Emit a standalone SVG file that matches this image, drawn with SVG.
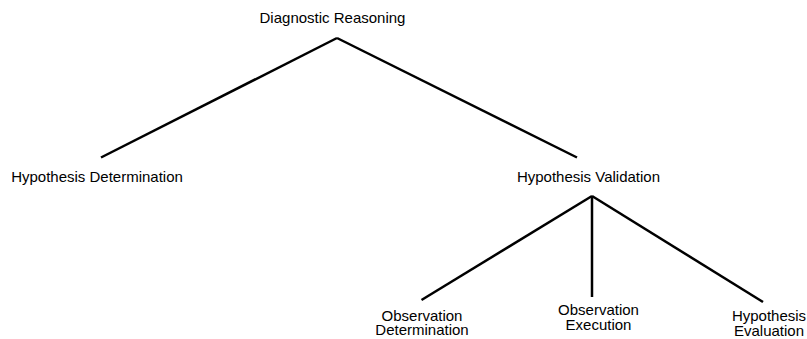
<svg xmlns="http://www.w3.org/2000/svg" width="807" height="339" viewBox="0 0 807 339">
<style>
.bg{fill:#ffffff}
.edge{stroke:#000000;stroke-width:2.5;fill:none;stroke-linecap:butt}
.lbl{font-family:"Liberation Sans",Arial,Helvetica,sans-serif;font-size:15px;fill:#000000;text-anchor:middle}
</style>
<rect class="bg" x="0" y="0" width="807" height="339"/>
<g id="connectors">
<line class="edge" x1="337" y1="38" x2="101" y2="157.5"/>
<line class="edge" x1="337" y1="38" x2="577" y2="157.5"/>
<line class="edge" x1="592" y1="196" x2="421.5" y2="300"/>
<line class="edge" x1="592" y1="196" x2="592" y2="297"/>
<line class="edge" x1="592" y1="196" x2="763" y2="302"/>
</g>
<g id="node-diagnostic-reasoning">
<text class="lbl" x="332.5" y="22.5">Diagnostic Reasoning</text>
</g>
<g id="node-hypothesis-determination">
<text class="lbl" x="97" y="181.5">Hypothesis Determination</text>
</g>
<g id="node-hypothesis-validation">
<text class="lbl" x="588.5" y="181.5">Hypothesis Validation</text>
</g>
<g id="node-observation-determination">
<text class="lbl" x="422" y="320.5">Observation</text>
<text class="lbl" x="422" y="334.5">Determination</text>
</g>
<g id="node-observation-execution">
<text class="lbl" x="598.5" y="315">Observation</text>
<text class="lbl" x="598.5" y="329.5">Execution</text>
</g>
<g id="node-hypothesis-evaluation">
<text class="lbl" x="769" y="321">Hypothesis</text>
<text class="lbl" x="769" y="335.5">Evaluation</text>
</g>
</svg>
